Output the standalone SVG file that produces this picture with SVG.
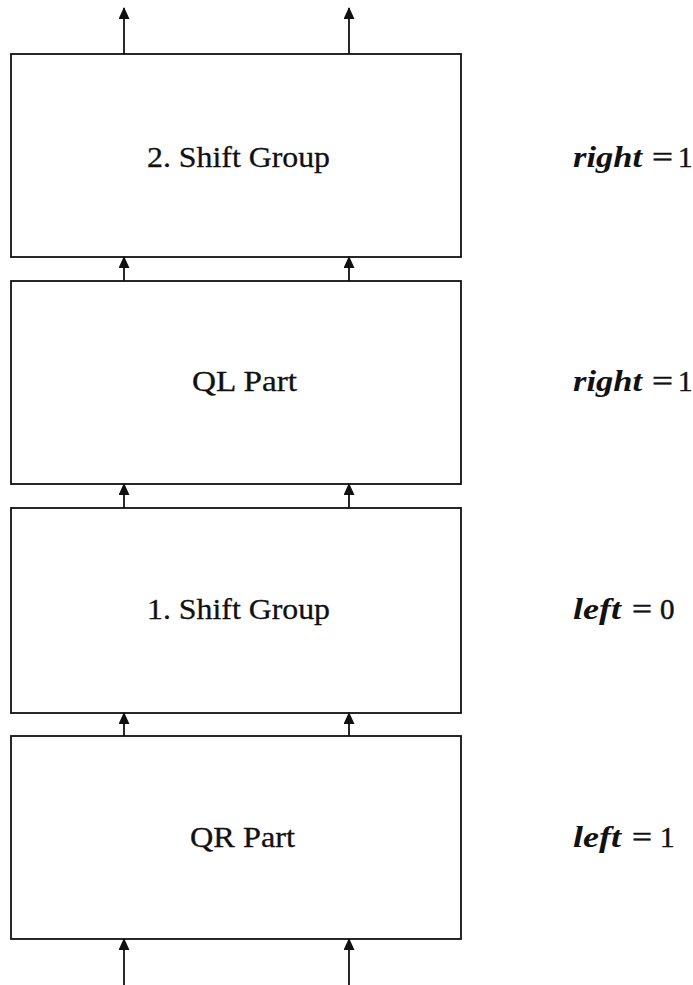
<svg xmlns="http://www.w3.org/2000/svg" width="693" height="985" viewBox="0 0 693 985">
  <style>
    .box { fill: #fff; stroke: #111; stroke-width: 1.8; }
    .wire { fill: none; stroke: #111; stroke-width: 1.8; }
    .lbl { font-family: "Liberation Serif", "Times New Roman", serif; font-size: 29px; fill: #111; stroke: #111; stroke-width: 0.3; }
    .var { font-family: "Liberation Serif", "Times New Roman", serif; font-size: 29px; font-weight: bold; font-style: italic; fill: #111; }
    .op { font-family: "Liberation Serif", "Times New Roman", serif; font-size: 29px; fill: #111; stroke: #111; stroke-width: 0.5; }
  </style>
  <defs>
    <marker id="head" markerUnits="userSpaceOnUse" markerWidth="12" markerHeight="14" refX="11" refY="5.5" orient="auto">
      <path d="M0,0 L12,5.5 L0,11 Z" fill="#111"/>
    </marker>
  </defs>

  <rect width="693" height="985" fill="#fff"/>

  <!-- stage boxes, bottom to top: QR, shift 1, QL, shift 2 -->
  <g id="shift2">
    <rect class="box" x="11" y="54" width="450" height="203"/>
    <text class="lbl" x="147" y="167" textLength="183" lengthAdjust="spacingAndGlyphs">2. Shift Group</text>
  </g>
  <g id="qlpart">
    <rect class="box" x="11" y="281" width="450" height="203"/>
    <text class="lbl" x="192" y="391" textLength="105" lengthAdjust="spacingAndGlyphs">QL Part</text>
  </g>
  <g id="shift1">
    <rect class="box" x="11" y="508" width="450" height="205"/>
    <text class="lbl" x="147" y="619" textLength="183" lengthAdjust="spacingAndGlyphs">1. Shift Group</text>
  </g>
  <g id="qrpart">
    <rect class="box" x="11" y="736" width="450" height="203"/>
    <text class="lbl" x="190" y="847" textLength="105" lengthAdjust="spacingAndGlyphs">QR Part</text>
  </g>

  <!-- flags beside each stage -->
  <g id="flag-shift2">
    <text class="var" x="573" y="167" textLength="69" lengthAdjust="spacingAndGlyphs">right</text>
    <text class="op" x="652" y="167" textLength="21" lengthAdjust="spacingAndGlyphs">=</text>
    <text class="op" x="678" y="167">1</text>
  </g>
  <g id="flag-qlpart">
    <text class="var" x="573" y="391" textLength="69" lengthAdjust="spacingAndGlyphs">right</text>
    <text class="op" x="652" y="391" textLength="21" lengthAdjust="spacingAndGlyphs">=</text>
    <text class="op" x="678" y="391">1</text>
  </g>
  <g id="flag-shift1">
    <text class="var" x="573" y="619" textLength="48" lengthAdjust="spacingAndGlyphs">left</text>
    <text class="op" x="632" y="619" textLength="20" lengthAdjust="spacingAndGlyphs">=</text>
    <text class="op" x="660" y="619">0</text>
  </g>
  <g id="flag-qrpart">
    <text class="var" x="573" y="847" textLength="48" lengthAdjust="spacingAndGlyphs">left</text>
    <text class="op" x="632" y="847" textLength="20" lengthAdjust="spacingAndGlyphs">=</text>
    <text class="op" x="660" y="847">1</text>
  </g>

  <!-- data flow, two lanes upward -->
  <g id="connectors">
    <line class="wire" x1="124" y1="54" x2="124" y2="8" marker-end="url(#head)"/>
    <line class="wire" x1="349" y1="54" x2="349" y2="8" marker-end="url(#head)"/>
    <line class="wire" x1="124" y1="281" x2="124" y2="257" marker-end="url(#head)"/>
    <line class="wire" x1="349" y1="281" x2="349" y2="257" marker-end="url(#head)"/>
    <line class="wire" x1="124" y1="508" x2="124" y2="484" marker-end="url(#head)"/>
    <line class="wire" x1="349" y1="508" x2="349" y2="484" marker-end="url(#head)"/>
    <line class="wire" x1="124" y1="736" x2="124" y2="713" marker-end="url(#head)"/>
    <line class="wire" x1="349" y1="736" x2="349" y2="713" marker-end="url(#head)"/>
    <line class="wire" x1="124" y1="985" x2="124" y2="939" marker-end="url(#head)"/>
    <line class="wire" x1="349" y1="985" x2="349" y2="939" marker-end="url(#head)"/>
  </g>
</svg>
